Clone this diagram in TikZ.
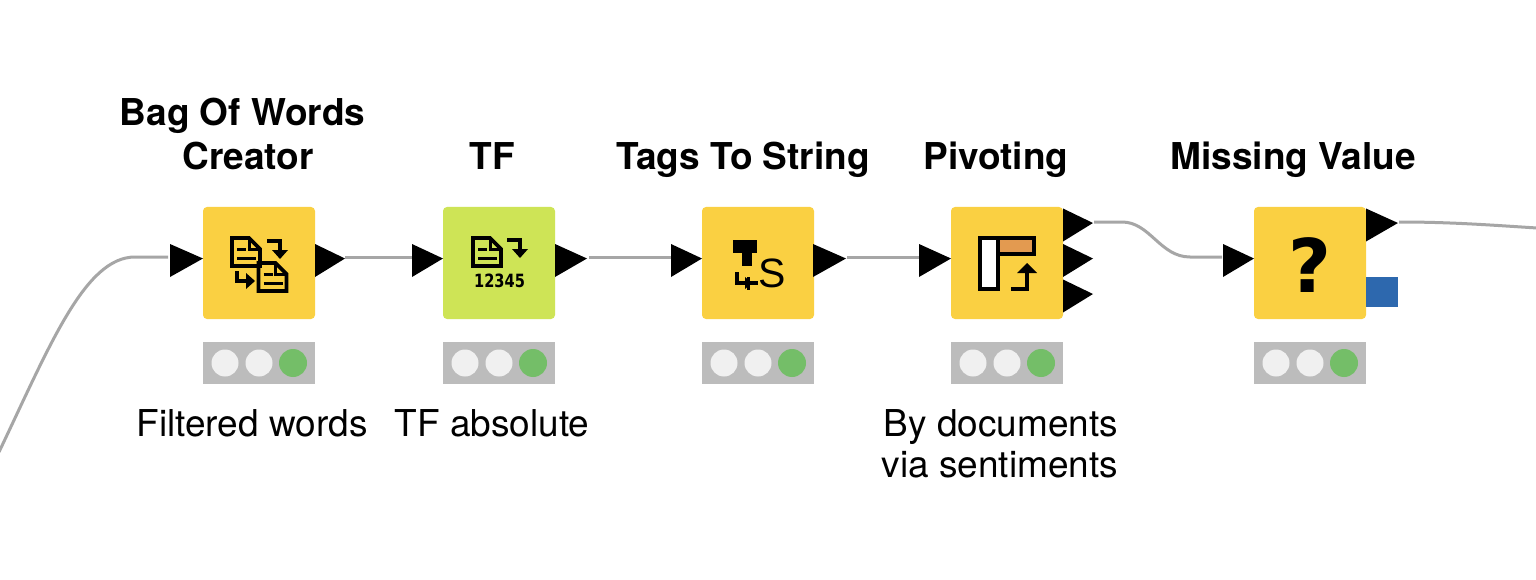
\documentclass[tikz,border=0pt]{standalone}
\usepackage{fontspec}
\setmainfont{TeX Gyre Heros}
\newfontfamily\digitfont{DejaVu Sans}
\newfontfamily\iconsans{Liberation Sans}
\definecolor{nodeyellow}{HTML}{FAD042}
\definecolor{nodelime}{HTML}{CEE456}
\definecolor{statusgray}{HTML}{BCBCBC}
\definecolor{lampoff}{HTML}{F0F0F0}
\definecolor{lampgreen}{HTML}{74BE68}
\definecolor{flowblue}{HTML}{2D68AE}
\definecolor{pivotorange}{HTML}{E39A50}
\definecolor{wire}{HTML}{A6A6A6}
\tikzset{
  bodybox/.style={draw=none,rounded corners=4pt,minimum width=112pt,minimum height=112pt,inner sep=0pt,outer sep=0pt},
  statusbox/.style={fill=statusgray,minimum width=112pt,minimum height=42pt,inner sep=0pt,outer sep=0pt},
  lamp/.style={circle,fill=lampoff,minimum size=27pt,inner sep=0pt},
  lampon/.style={circle,fill=lampgreen,minimum size=28pt,inner sep=0pt},
  wireline/.style={draw=wire,line width=3pt,line cap=butt},
  portfill/.style={fill=black},
  boldlabel/.style={font=\fontsize{37}{37}\selectfont\bfseries,anchor=base,inner sep=0pt},
  pluslabel/.style={font=\fontsize{37}{37}\selectfont,anchor=base,inner sep=0pt},
  iconline/.style={draw=black,line width=3.6pt,line join=miter,line cap=butt},
  thinline/.style={draw=black,line width=3pt,line cap=butt},
  docicon/.pic={
    \draw[iconline] (0,0) -- (17,0) -- (28,11) -- (28,28) -- (0,28) -- cycle;
    \draw[thinline] (17,0) -- (17,11) -- (28,11);
    \draw[thinline] (5,11) -- (14,11);
    \draw[thinline] (5,20) -- (24,20);
  },
  downarrow/.pic={
    \draw[iconline] (0,0) -- (13,0) -- (13,13);
    \fill (5,9) -- (21,9) -- (13,18) -- cycle;
  },
  cornerarrow/.pic={
    \draw[iconline] (0,0) -- (0,10) -- (13,10);
    \fill (9,2) -- (9,18) -- (18,10) -- cycle;
  },
  longcorner/.pic={
    \draw[iconline] (0,0) -- (0,11) -- (21,11);
    \draw[thinline] (11,5) -- (11,18);
    \fill (8,5) -- (8,17) -- (15,11) -- cycle;
  },
  porttri/.pic={
    \fill[portfill] (0,-16.5) -- (#1,-2) -- (0,16.5) -- cycle;
    \coordinate (-tip) at (#1,-2);
    \coordinate (-base) at (0,-2);
  },
  lights/.pic={
    \node[statusbox] (-box) at (56,21) {};
    \node[lamp] (-a) at (22,21) {};
    \node[lamp] (-b) at (56,21) {};
    \node[lampon] (-c) at (90,21) {};
  }
}
\begin{document}
\begin{tikzpicture}[x=1pt,y=-1pt]
\useasboundingbox (0,0) rectangle (1536,580);
\fill[white] (0,0) rectangle (1536,580);

% bodies
\node[bodybox,fill=nodeyellow] (n1) at (259,263) {};
\node[bodybox,fill=nodelime]   (n2) at (499,263) {};
\node[bodybox,fill=nodeyellow] (n3) at (758,263) {};
\node[bodybox,fill=nodeyellow] (n4) at (1007,263) {};
\node[bodybox,fill=nodeyellow] (n5) at (1310,263) {};

% status bars
\pic (s1) at (203,342) {lights};
\pic (s2) at (443,342) {lights};
\pic (s3) at (702,342) {lights};
\pic (s4) at (951,342) {lights};
\pic (s5) at (1254,342) {lights};

% ports
\pic (i1) at (170,260.5) {porttri=33};
\pic (o1) at (315,260.5) {porttri=30};
\pic (i2) at (412,260.5) {porttri=31};
\pic (o2) at (555,260.5) {porttri=32};
\pic (i3) at (671,260.5) {porttri=31};
\pic (o3) at (813,260.5) {porttri=33};
\pic (i4) at (919,260.5) {porttri=32};
\pic (o4a) at (1063,225) {porttri=30};
\pic (o4b) at (1063,260.5) {porttri=30};
\pic (o4c) at (1063,296) {porttri=30};
\pic (i5) at (1223,260.5) {porttri=31};
\pic (o5) at (1366,225) {porttri=32};
\node[fill=flowblue,minimum width=32pt,minimum height=30pt,inner sep=0pt] (flow) at (1382,292) {};

% connectors
\coordinate (startL) at (-1,452);
\coordinate (endR) at (1537,228);
\coordinate (w1a) at (135,257);
\coordinate (w4a) at (1122,222);
\coordinate (w4b) at (1190,257);
\draw[wireline] (startL) .. controls (50,345) and (85,257) .. (w1a) -- (168,257);
\draw[wireline] (o1-tip |- 0,257) -- (i2-base |- 0,257);
\draw[wireline] (589,257) -- (i3-base |- 0,257);
\draw[wireline] (847,257) -- (i4-base |- 0,257);
\draw[wireline] (1094,222) -- (w4a) .. controls (1150,222) and (1160,257) .. (w4b) -- (1222,257);
\draw[wireline] (1399,222) .. controls (1450,222) and (1490,225) .. (endR);

% icon 1
\pic at (232,238) {docicon};
\pic at (258.5,263) {docicon};
\pic at (267,241) {downarrow};
\pic at (237,271) {cornerarrow};
% icon 2
\pic at (473,238) {docicon};
\pic at (507,240) {downarrow};
\node[font=\digitfont\fontsize{14.6}{16}\selectfont\bfseries,inner sep=0pt,transform shape,yscale=1.25] (digits) at (499.5,281) {12345};
% icon 3
\fill (733,240) rectangle (757,253);
\fill (742,240) rectangle (752,266);
\pic at (737,272) {longcorner};
\node[font=\iconsans\fontsize{41}{41}\selectfont,inner sep=0pt] (letterS) at (772.5,273) {S};
% icon 4
\draw[iconline,fill=white] (980,238) rectangle (998,289);
\draw[iconline,fill=pivotorange] (998,238) rectangle (1034,254);
\draw[iconline] (1011,289) -- (1027,289) -- (1027,270);
\fill (1027,263) -- (1037,273) -- (1017,273) -- cycle;
% icon 5
\node[font=\digitfont\fontsize{74}{74}\selectfont\bfseries,inner sep=0pt] (qmark) at (1310,265) {?};

% labels
\node[boldlabel] (t1a) at (242.5,126) {Bag Of Words};
\node[boldlabel] (t1b) at (248,170) {Creator};
\node[boldlabel] (t2) at (492,170) {TF};
\node[boldlabel] (t3) at (743,170) {Tags To String};
\node[boldlabel] (t4) at (996,170) {Pivoting};
\node[boldlabel] (t5) at (1293,170) {Missing Value};
\node[pluslabel] (b1) at (252,436) {Filtered words};
\node[pluslabel] (b2) at (492,436) {TF absolute};
\node[pluslabel] (b4a) at (1001,436) {By documents};
\node[pluslabel] (b4b) at (1000,477) {via sentiments};
\end{tikzpicture}
\end{document}
